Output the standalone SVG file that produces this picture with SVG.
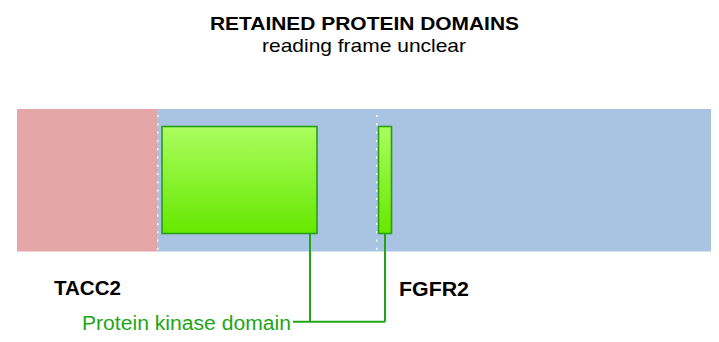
<svg xmlns="http://www.w3.org/2000/svg" width="719" height="342" viewBox="0 0 719 342">
<defs>
<linearGradient id="g" x1="0" y1="0" x2="0" y2="1">
<stop offset="0" stop-color="#abfd5e"/>
<stop offset="1" stop-color="#66e800"/>
</linearGradient>
<style>
.t{font-family:"Liberation Sans",Arial,sans-serif;fill:#000}
.b{font-weight:bold}
.dom{fill:url(#g);stroke:#2a9e16;stroke-width:1.6}
.brk{stroke:#fff;stroke-width:1.5;stroke-dasharray:2 6.3}
.con{fill:none;stroke:#22a514;stroke-width:2}
</style>
</defs>
<rect width="719" height="342" fill="#fff"/>
<g id="title">
<text class="t b" x="210" y="29.5" font-size="18" textLength="309" lengthAdjust="spacingAndGlyphs">RETAINED PROTEIN DOMAINS</text>
<text class="t" x="262" y="51.5" font-size="19" textLength="204" lengthAdjust="spacingAndGlyphs">reading frame unclear</text>
</g>
<g id="TACC2">
<rect x="17" y="109" width="140" height="142.5" fill="#e4a6a6"/>
<text class="t b" x="54" y="295" font-size="19.5" textLength="67" lengthAdjust="spacingAndGlyphs">TACC2</text>
</g>
<g id="FGFR2">
<rect x="157" y="109" width="554" height="142.5" fill="#a8c4e2"/>
<text class="t b" x="399" y="296" font-size="20" textLength="70" lengthAdjust="spacingAndGlyphs">FGFR2</text>
</g>
<g id="breaks">
<line class="brk" x1="157.7" y1="115" x2="157.7" y2="250"/>
<line class="brk" x1="376.7" y1="115" x2="376.7" y2="250"/>
</g>
<g id="domain1"><rect class="dom" x="162" y="126.5" width="155" height="107"/></g>
<g id="domain2"><rect class="dom" x="378.5" y="126.5" width="13" height="107"/></g>
<g id="connectors">
<path class="con" d="M310 233.7V321.7M385 233.7V321.7M293 321.7H385"/>
</g>
<g id="label">
<text class="t" x="82" y="330" font-size="20" textLength="209" lengthAdjust="spacingAndGlyphs" style="fill:#22a514">Protein kinase domain</text>
</g>
</svg>
